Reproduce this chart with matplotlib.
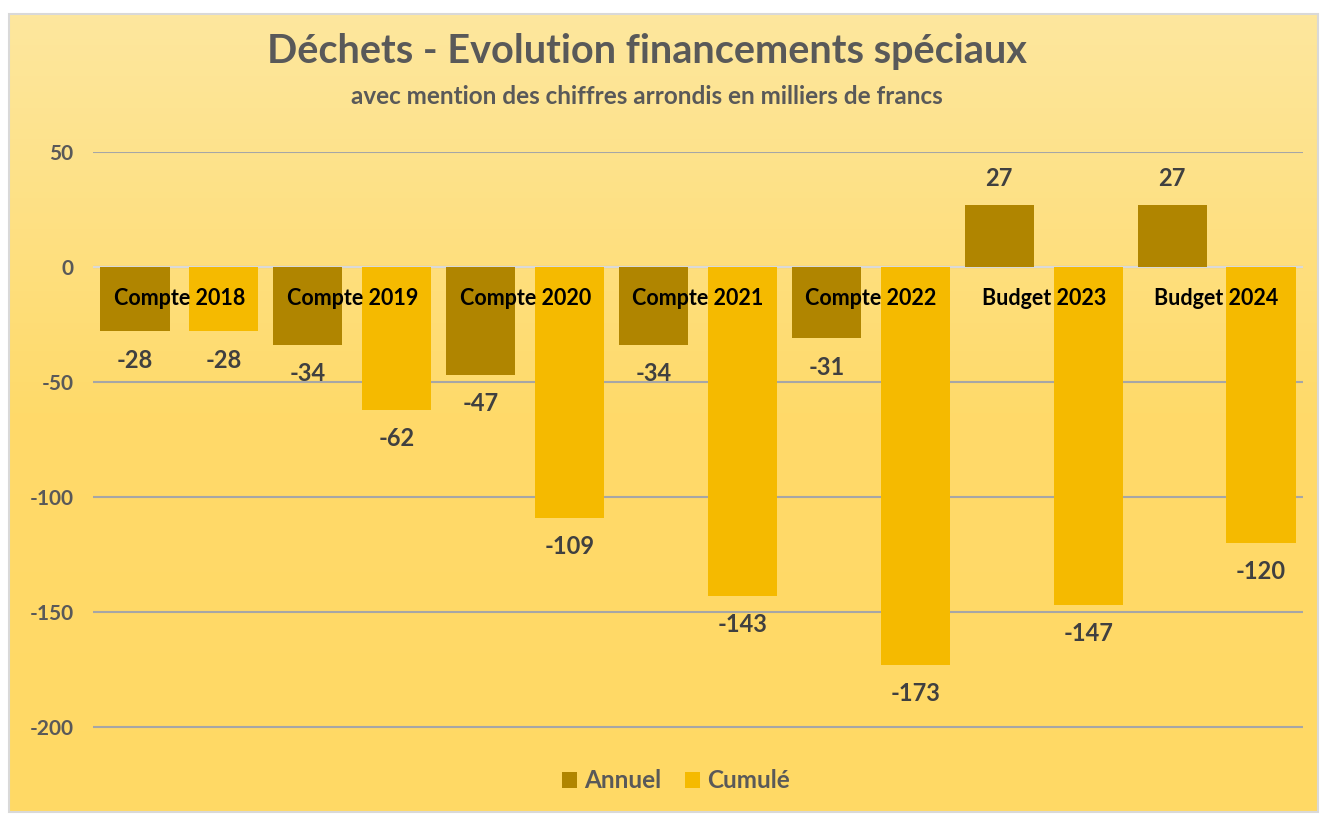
import matplotlib.pyplot as plt
import numpy as np
from matplotlib.patches import Rectangle
from matplotlib.colors import LinearSegmentedColormap

categories = ['Compte 2018', 'Compte 2019', 'Compte 2020', 'Compte 2021',
              'Compte 2022', 'Budget 2023', 'Budget 2024']
annuel = [-28, -34, -47, -34, -31, 27, 27]
cumule = [-28, -62, -109, -143, -173, -147, -120]

plt.rcParams['font.family'] = ['Lato', 'DejaVu Sans']
plt.rcParams['axes.unicode_minus'] = False
W, H = 1323, 814
fig = plt.figure(figsize=(W / 100, H / 100), dpi=100)

# chart area with gradient background
x0, y0, x1, y1 = 9 / W, 1 - 812 / H, 1318 / W, 1 - 14 / H
bg = fig.add_axes([x0, y0, x1 - x0, y1 - y0], zorder=0)
cmap = LinearSegmentedColormap.from_list('bg', ['#FDE79E', '#FFDA6A', '#FFD965'])
bg.imshow(np.linspace(0, 1, 256).reshape(-1, 1), aspect='auto', cmap=cmap,
          extent=[0, 1, 0, 1])
bg.set_axis_off()
fig.patches.append(Rectangle((x0, y0), x1 - x0, y1 - y0, transform=fig.transFigure,
                             fill=False, edgecolor='#D9D9D9', linewidth=1.5, zorder=5))

ax = fig.add_axes([93 / W, 1 - 760 / H, (1303 - 93) / W, (760 - 152) / H], zorder=1)
ax.patch.set_alpha(0)
ymin = -200 - (760 - 727) / 2.3
ax.set_ylim(ymin, 50)
ax.set_xlim(-0.5, len(categories) - 0.5)

x = np.arange(len(categories))
off, bw = 0.257, 0.40
c_ann, c_cum = '#B08500', '#F5BA00'
ax.bar(x - off, annuel, bw, color=c_ann, label='Annuel', zorder=3)
ax.bar(x + off, cumule, bw, color=c_cum, label='Cumulé', zorder=3)

for i in range(len(categories)):
    for v, xx in ((annuel[i], x[i] - off), (cumule[i], x[i] + off)):
        dy = 11.5 if v > 0 else -12.5
        ax.text(xx, v + dy, str(v), ha='center', va='center', fontsize=17,
                fontweight='bold', color='#404040', zorder=4)
    ax.text(x[i], -13.5, categories[i], ha='center', va='center', fontsize=15.5,
            fontweight='bold', color='black', zorder=4)

ax.set_yticks([50, 0, -50, -100, -150, -200])
ax.grid(axis='y', color='#A6A6A6', linewidth=1.5, zorder=1)
ax.axhline(0, color='#D9D9D9', linewidth=1.5, zorder=2)
ax.set_xticks([])
for s in ax.spines.values():
    s.set_visible(False)
ax.tick_params(axis='y', length=0, pad=14, labelsize=15, labelcolor='#595959')
for t in ax.get_yticklabels():
    t.set_fontweight('bold')

fig.text(647 / W, 1 - 52 / H, 'Déchets - Evolution financements spéciaux',
         ha='center', va='center', fontsize=28.5, fontweight='bold', color='#595959')
fig.text(647 / W, 1 - 96 / H, 'avec mention des chiffres arrondis en milliers de francs',
         ha='center', va='center', fontsize=17.5, fontweight='bold', color='#595959')

leg = fig.legend(loc='center', bbox_to_anchor=(676 / W, 1 - 781 / H), ncol=2,
                 frameon=False, fontsize=17.5, handlelength=0.6, handleheight=0.6,
                 handletextpad=0.3, columnspacing=1.0)
for t in leg.get_texts():
    t.set_color('#595959')
    t.set_fontweight('bold')

fig.savefig('out.png', dpi=100)
